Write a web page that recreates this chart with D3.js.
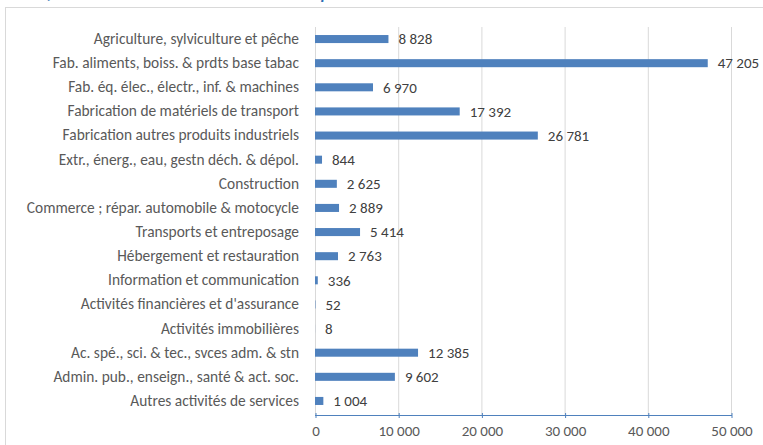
<!DOCTYPE html>
<html>
<head>
<meta charset="utf-8">
<script src="https://cdn.jsdelivr.net/npm/d3@7"></script>
<style>
  body { margin: 0; background: #fff; }
  svg { display: block; font-family: Calibri, Carlito, Lato, sans-serif; }
</style>
</head>
<body>
<svg id="chart" width="763" height="445"></svg>
<script>
// data
const sectors = [
  "Agriculture, sylviculture et pêche",
  "Fab. aliments, boiss. & prdts base tabac",
  "Fab. éq. élec., électr., inf. & machines",
  "Fabrication de matériels de transport",
  "Fabrication autres produits industriels",
  "Extr., énerg., eau, gestn déch. & dépol.",
  "Construction",
  "Commerce ; répar. automobile & motocycle",
  "Transports et entreposage",
  "Hébergement et restauration",
  "Information et communication",
  "Activités financières et d'assurance",
  "Activités immobilières",
  "Ac. spé., sci. & tec., svces adm. & stn",
  "Admin. pub., enseign., santé & act. soc.",
  "Autres activités de services"
];
const values = [8828, 47205, 6970, 17392, 26781, 844, 2625, 2889, 5414, 2763, 336, 52, 8, 12385, 9602, 1004];
const xTicks = [0, 10000, 20000, 30000, 40000, 50000];
const titleText = "Effectifs salariés de l'industrie et des services par secteur d'activité";

const svg = d3.select("#chart");
const padding = { top: 27, right: 32, bottom: 32, left: 315 };
const width = +svg.attr("width");
const height = +svg.attr("height");
const FONT = "Calibri, Carlito, Lato, sans-serif";

const fr = d3.formatLocale({ decimal: ",", thousands: "\u00a0", grouping: [3], currency: ["", " €"] });
const fmt = fr.format(",d");

// chart frame and cut title
svg.append("rect")
  .attr("x", 5.5).attr("y", 7.5)
  .attr("width", 770).attr("height", 450)
  .attr("fill", "#fff")
  .attr("stroke", "#d9d9d9");

svg.append("text")
  .attr("x", 4).attr("y", -1)
  .attr("font-size", "17px")
  .attr("font-weight", "bold")
  .attr("font-style", "italic")
  .attr("fill", "#2e6db4")
  .text(titleText);

var xScale = d3.scaleLinear()
  .domain([0, 50000])
  .range([padding.left, width - padding.right]);

var yScale = d3.scaleBand()
  .domain(sectors)
  .range([padding.top, 413])
  .paddingInner(0.667)
  .paddingOuter(0.333);

// gridlines
svg.append("g")
  .selectAll("line")
  .data(xTicks.slice(1))
  .enter()
  .append("line")
  .attr("x1", d => xScale(d) + 0.5)
  .attr("x2", d => xScale(d) + 0.5)
  .attr("y1", padding.top)
  .attr("y2", 415)
  .attr("stroke", "#d9d9d9");

// vertical axis line
svg.append("line")
  .attr("x1", xScale(0) + 0.5).attr("x2", xScale(0) + 0.5)
  .attr("y1", padding.top).attr("y2", 415)
  .attr("stroke", "#d9d9d9");

// bars
svg.append("g")
  .selectAll("rect")
  .data(values)
  .enter()
  .append("rect")
  .attr("x", xScale(0))
  .attr("y", (d, i) => yScale(sectors[i]))
  .attr("width", d => xScale(d) - xScale(0))
  .attr("height", yScale.bandwidth())
  .attr("fill", "#4f81bd");

// value labels
svg.append("g")
  .selectAll("text")
  .data(values)
  .enter()
  .append("text")
  .attr("x", d => xScale(d) + 10)
  .attr("y", (d, i) => yScale(sectors[i]) + yScale.bandwidth() / 2)
  .attr("dy", "0.35em")
  .attr("font-size", "15px")
  .attr("fill", "#404040")
  .text(d => fmt(d));

// category labels
var yAxis = d3.axisLeft(yScale).tickSize(0).tickPadding(16);
svg.append("g")
  .attr("class", "y-axis")
  .attr("transform", `translate(${padding.left},0)`)
  .call(yAxis)
  .call(g => g.select(".domain").remove())
  .selectAll("text")
  .attr("font-size", "15.4px")
  .attr("font-family", FONT)
  .attr("fill", "#595959");

// x axis
var xAxis = d3.axisBottom(xScale)
  .tickValues(xTicks)
  .tickFormat(d => fmt(d))
  .tickSizeInner(5)
  .tickSizeOuter(0)
  .tickPadding(7);
svg.append("g")
  .attr("class", "x-axis")
  .attr("transform", "translate(0.5,413)")
  .call(xAxis)
  .call(g => g.select(".domain").remove())
  .call(g => g.selectAll("line").attr("stroke", "#4f81bd"))
  .selectAll("text")
  .attr("font-size", "15px")
  .attr("font-family", FONT)
  .attr("fill", "#595959");

svg.append("line")
  .attr("x1", xScale(0)).attr("x2", xScale(50000) + 1)
  .attr("y1", 415.5).attr("y2", 415.5)
  .attr("stroke", "#4f81bd");
</script>
</body>
</html>
